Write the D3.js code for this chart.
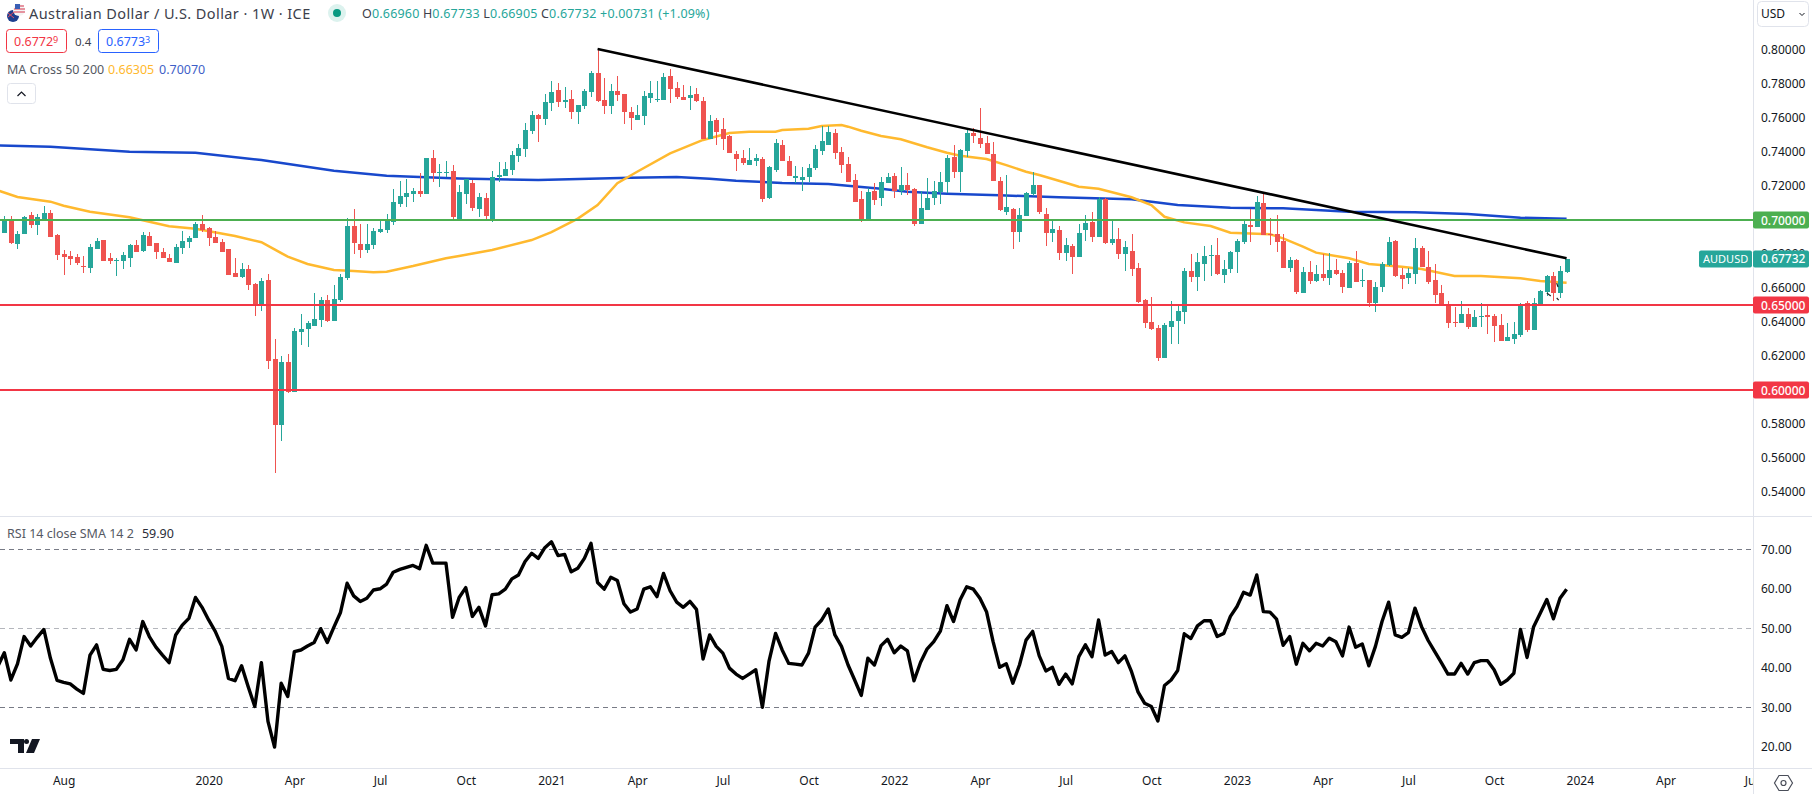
<!DOCTYPE html>
<html>
<head>
<meta charset="utf-8">
<title>AUDUSD weekly</title>
<script src="https://cdnjs.cloudflare.com/ajax/libs/d3/7.8.5/d3.min.js"></script>
<style>
  html, body { margin: 0; padding: 0; background: #fff; overflow: hidden; }
  svg { display: block; }
  text { font-family: "Noto Sans", sans-serif; }
</style>
</head>
<body>
<div id="chart"></div>
<script>
// weekly bars, index 0 is the first week on screen (June 2019)
var opens = [
  .6924,.7006,.6859,.6918,.7030,.6971,.7000,.7041,.6912,.6800,
  .6788,.6782,.6730,.6718,.6830,.6882,.6777,.6759,.6759,.6777,
  .6853,.6818,.6906,.6865,.6812,.6777,.6747,.6835,.6871,.6894,
  .6977,.6953,.6900,.6871,.6830,.6688,.6665,.6712,.6624,.6500,
  .6647,.6183,.5794,.6165,.5988,.6341,.6359,.6377,.6412,.6530,
  .6406,.6530,.6659,.6965,.6859,.6824,.6853,.6929,.6941,.6988,
  .7094,.7135,.7153,.7171,.7153,.7365,.7276,.7276,.7288,.7006,
  .7153,.7218,.7065,.7129,.7000,.7253,.7259,.7294,.7376,.7418,
  .7523,.7617,.7594,.7688,.7765,.7694,.7712,.7635,.7670,.7753,
  .7865,.7706,.7670,.7759,.7741,.7635,.7588,.7612,.7718,.7706,
  .7706,.7847,.7776,.7723,.7718,.7741,.7700,.7476,.7588,.7535,
  .7494,.7388,.7365,.7323,.7347,.7359,.7129,.7294,.7441,.7347,
  .7247,.7235,.7253,.7306,.7406,.7441,.7512,.7400,.7329,.7235,
  .7123,.7000,.7171,.7129,.7218,.7259,.7171,.7206,.7182,.6977,
  .7059,.7129,.7165,.7224,.7370,.7282,.7406,.7512,.7482,.7453,
  .7388,.7229,.7047,.7065,.6929,.7024,.7153,.7206,.7035,.6924,
  .6941,.6806,.6847,.6782,.6941,.6988,.6900,.7123,.6865,.6888,
  .6800,.6818,.6718,.6530,.6400,.6365,.6188,.6371,.6406,.6459,
  .6700,.6665,.6741,.6788,.6794,.6677,.6712,.6812,.6871,.6971,
  .6959,.7100,.6918,.6918,.6877,.6718,.6765,.6571,.6694,.6641,
  .6683,.6659,.6706,.6688,.6600,.6747,.6641,.6647,.6512,.6606,
  .6735,.6877,.6677,.6659,.6683,.6835,.6724,.6647,.6571,.6500,
  .6400,.6394,.6447,.6371,.6429,.6441,.6435,.6382,.6288,.6300,
  .6324,.6512,.6353,.6500,.6577,.6671,.6571,.66960
]

var highs = [
  .7024,.7024,.6935,.7024,.7047,.7035,.7082,.7059,.6918,.6824,
  .6818,.6800,.6788,.6859,.6894,.6882,.6806,.6777,.6812,.6859,
  .6882,.6929,.6929,.6865,.6835,.6800,.6859,.6935,.6906,.6988,
  .7030,.6959,.6935,.6888,.6830,.6777,.6747,.6735,.6630,.6659,
  .6683,.6300,.6200,.6212,.6365,.6447,.6406,.6571,.6547,.6559,
  .6618,.6683,.7012,.7065,.6977,.6977,.6953,.6994,.7035,.7182,
  .7229,.7241,.7188,.7276,.7365,.7412,.7329,.7347,.7323,.7206,
  .7241,.7235,.7159,.7159,.7288,.7341,.7341,.7406,.7447,.7570,
  .7641,.7623,.7741,.7817,.7806,.7782,.7765,.7676,.7770,.7876,
  .8006,.7835,.7800,.7847,.7741,.7665,.7676,.7759,.7817,.7817,
  .7865,.7888,.7812,.7794,.7788,.7776,.7723,.7617,.7600,.7600,
  .7500,.7406,.7412,.7423,.7388,.7370,.7318,.7476,.7470,.7376,
  .7318,.7312,.7329,.7441,.7553,.7553,.7535,.7429,.7370,.7271,
  .7171,.7188,.7218,.7253,.7276,.7276,.7312,.7276,.7188,.7171,
  .7247,.7229,.7282,.7382,.7441,.7418,.7535,.7541,.7659,.7494,
  .7459,.7253,.7265,.7071,.7071,.7165,.7282,.7206,.7071,.6994,
  .6965,.6894,.6859,.6977,.7030,.7047,.7135,.7129,.7000,.6953,
  .6877,.6918,.6747,.6535,.6547,.6382,.6394,.6523,.6494,.6718,
  .6800,.6806,.6847,.6853,.6894,.6765,.6818,.6888,.6994,.7065,
  .7141,.7159,.7012,.7030,.6918,.6782,.6771,.6724,.6759,.6735,
  .6800,.6806,.6771,.6706,.6759,.6818,.6712,.6647,.6635,.6753,
  .6900,.6882,.6718,.6718,.6894,.6847,.6818,.6741,.6618,.6523,
  .6488,.6523,.6482,.6471,.6512,.6500,.6447,.6447,.6394,.6400,
  .6512,.6523,.6541,.6588,.6677,.6694,.6730,.67733
]

var lows = [
  .6924,.6859,.6830,.6918,.6953,.6912,.7000,.6900,.6765,.6677,
  .6735,.6735,.6688,.6688,.6830,.6759,.6741,.6671,.6712,.6724,
  .6812,.6812,.6847,.6771,.6777,.6753,.6747,.6800,.6835,.6894,
  .6929,.6847,.6865,.6812,.6677,.6665,.6659,.6588,.6435,.6465,
  .6124,.5512,.5700,.5982,.5988,.6265,.6253,.6377,.6371,.6400,
  .6406,.6518,.6647,.6800,.6777,.6806,.6830,.6924,.6924,.6971,
  .7076,.7076,.7106,.7135,.7153,.7224,.7194,.7253,.7006,.7000,
  .7094,.7053,.7018,.7000,.6988,.7224,.7259,.7265,.7341,.7370,
  .7506,.7459,.7559,.7641,.7665,.7659,.7594,.7565,.7653,.7723,
  .7694,.7623,.7623,.7700,.7565,.7529,.7588,.7559,.7688,.7694,
  .7706,.7688,.7712,.7706,.7647,.7694,.7476,.7476,.7441,.7412,
  .7394,.7288,.7323,.7323,.7318,.7106,.7123,.7282,.7347,.7259,
  .7218,.7171,.7224,.7294,.7382,.7441,.7359,.7276,.7224,.7106,
  .6988,.6994,.7088,.7082,.7218,.7129,.7147,.7147,.6965,.6977,
  .7059,.7088,.7094,.7159,.7247,.7165,.7370,.7453,.7423,.7388,
  .7229,.7053,.7030,.6830,.6871,.7024,.7141,.7035,.6847,.6871,
  .6765,.6759,.6683,.6782,.6877,.6871,.6900,.6859,.6853,.6771,
  .6700,.6671,.6512,.6365,.6353,.6171,.6188,.6271,.6271,.6388,
  .6635,.6582,.6641,.6671,.6677,.6630,.6688,.6688,.6859,.6871,
  .6959,.6912,.6853,.6812,.6718,.6694,.6565,.6571,.6624,.6635,
  .6641,.6618,.6677,.6571,.6600,.6635,.6606,.6488,.6459,.6577,
  .6730,.6665,.6594,.6624,.6624,.6724,.6624,.6512,.6494,.6365,
  .6371,.6394,.6359,.6371,.6371,.6329,.6282,.6288,.6288,.6271,
  .6312,.6341,.6353,.6500,.6553,.6523,.6541,.66905
]

var closes = [
  .6994,.6865,.6918,.7018,.6971,.7018,.7041,.6900,.6794,.6782,
  .6771,.6747,.6724,.6841,.6877,.6759,.6759,.6765,.6794,.6853,
  .6812,.6912,.6847,.6812,.6777,.6753,.6841,.6877,.6894,.6977,
  .6941,.6894,.6865,.6812,.6677,.6665,.6712,.6618,.6494,.6641,
  .6171,.5794,.6165,.5988,.6347,.6359,.6394,.6418,.6530,.6406,
  .6535,.6665,.6965,.6865,.6824,.6859,.6935,.6947,.6994,.7106,
  .7141,.7159,.7171,.7153,.7365,.7276,.7282,.7282,.7018,.7165,
  .7241,.7071,.7135,.7024,.7253,.7265,.7300,.7382,.7423,.7529,
  .7617,.7594,.7694,.7753,.7694,.7706,.7635,.7676,.7759,.7865,
  .7700,.7670,.7759,.7735,.7635,.7600,.7617,.7729,.7747,.7712,
  .7841,.7770,.7723,.7706,.7735,.7700,.7476,.7582,.7517,.7476,
  .7394,.7359,.7335,.7353,.7365,.7123,.7312,.7453,.7347,.7259,
  .7259,.7253,.7306,.7418,.7465,.7518,.7394,.7323,.7224,.7106,
  .6994,.7165,.7118,.7224,.7253,.7171,.7206,.7176,.6977,.7071,
  .7129,.7171,.7224,.7365,.7282,.7412,.7512,.7494,.7447,.7388,
  .7229,.7059,.7076,.6929,.7030,.7159,.7206,.7047,.6924,.6947,
  .6806,.6853,.6782,.6924,.6982,.6900,.7123,.6865,.6888,.6800,
  .6841,.6712,.6518,.6394,.6359,.6188,.6382,.6406,.6465,.6700,
  .6665,.6753,.6788,.6794,.6683,.6712,.6812,.6877,.6977,.6959,
  .7106,.6912,.6912,.6871,.6718,.6765,.6577,.6694,.6641,.6683,
  .6659,.6706,.6683,.6606,.6747,.6635,.6647,.6512,.6606,.6741,
  .6871,.6671,.6653,.6688,.6835,.6724,.6635,.6559,.6494,.6394,
  .6394,.6447,.6371,.6429,.6435,.6429,.6377,.6288,.6312,.6329,
  .6506,.6353,.6512,.6582,.6671,.6571,.6700,.67732
]

// RSI starts one bar earlier, off the left edge
var rsiFirstBar = -1
var rsiValues = [
  40.3,
  43.8,36.9,41.0,47.9,45.5,47.7,49.7,42.4,36.8,36.3,35.9,34.6,33.5,43.2,45.8,39.6,39.3,39.6,42.0,47.2,
  44.5,51.7,47.9,45.2,43.2,41.3,48.3,50.8,52.5,57.8,55.3,52.1,49.2,45.4,37.3,36.7,40.5,35.2,30.2,41.3,
  26.4,19.9,36.1,32.7,44.1,44.5,45.5,46.4,49.9,46.4,50.3,54.0,61.4,58.2,56.8,57.6,59.7,60.0,61.2,64.2,
  64.9,65.4,65.9,65.1,71.0,66.5,66.5,66.5,52.8,57.8,60.3,53.0,55.3,50.6,58.5,58.7,59.9,62.5,63.5,66.9,
  69.0,67.7,70.4,71.9,68.4,68.7,64.3,65.2,67.7,71.5,61.6,59.9,62.9,62.1,56.2,54.1,54.9,59.9,60.5,58.0,
  63.9,59.5,56.6,55.3,56.8,54.8,42.2,48.3,45.4,43.7,39.9,38.4,37.3,38.4,39.5,30.0,41.6,48.7,44.5,41.1,
  40.9,40.7,43.7,50.3,52.1,54.9,48.3,45.4,40.7,36.9,33.0,42.4,40.7,45.6,47.2,43.8,45.5,44.3,36.7,41.4,
  44.8,46.6,49.3,55.7,51.7,57.2,60.5,59.9,57.6,54.2,46.6,40.1,41.0,36.1,40.7,47.0,49.2,43.0,39.2,40.1,
  35.8,38.4,35.9,42.8,45.8,42.8,52.1,43.2,44.1,41.3,43.0,39.0,33.8,31.0,30.2,26.5,35.5,36.9,39.3,48.6,
  47.4,50.6,51.9,51.9,47.9,48.7,53.0,55.5,59.1,58.4,63.5,54.2,54.1,52.3,45.7,47.9,40.9,46.2,44.3,46.2,
  45.5,47.5,46.6,43.0,50.3,45.2,46.0,40.5,45.4,51.7,56.6,48.3,47.7,48.9,55.1,50.4,46.9,44.1,41.3,38.4,
  38.4,41.1,38.4,41.3,41.8,41.8,39.5,35.8,36.9,38.6,49.7,42.6,50.4,53.8,57.3,52.4,57.6,59.9
]

// moving averages, read at the bars where they bend
var ma50Bars = [-1,2,7,9,13,19,25,29,35,39,43,46,50,53,56,58,62,67,69,74,80,83,87,90,93,96,101,106,110,113,117,118,122,124,127,128,130,133,136,140,143,145,149,152,155,157,161,163,166,171,174,176,179,183,186,192,194,197,199,204,207,212,215,220,224,230,233,237]
var ma50Values = [.7174,.7135,.7108,.7084,.7049,.7016,.6963,.6949,.6906,.6869,.6784,.6741,.6706,.6700,.6692,.6696,.6729,.6775,.6788,.6824,.6882,.6929,.7008,.7088,.7216,.7284,.7392,.7471,.7512,.7519,.7519,.7529,.7537,.7553,.7559,.7549,.7525,.7494,.7475,.7428,.7396,.7378,.7359,.7323,.7284,.7265,.7219,.7196,.7184,.7134,.7088,.7019,.6986,.6965,.6925,.6916,.6892,.6843,.6808,.6775,.6741,.6725,.6712,.6671,.6671,.6657,.6641,.66305]
var ma200Bars = [-1,7,19,29,39,50,58,69,81,95,102,107,111,118,125,133,137,143,151,160,171,178,186,194,204,214,222,230,237]
var ma200Values = [.7439,.7431,.7402,.7396,.7353,.7290,.7261,.7244,.7235,.7249,.7253,.7243,.7231,.7218,.7212,.7184,.7166,.7155,.7145,.7134,.7122,.7088,.7072,.7069,.7049,.7045,.7035,.7013,.7007]

// drawn levels and the falling trend line
var levelValues = [.70, .65, .60]
var levelColors = ['#4caf50', '#f23645', '#f23645']
var trendBars = [90, 237]
var trendValues = [.8006, .6775]
var scrapBars = [[234, 234.6], [235.5, 235.8], [235.5, 235.7]]
var scrapValues = [[.6570, .6553], [.6541, .6529], [.6629, .6606]]

var priceTicks = [.54,.56,.58,.60,.62,.64,.66,.68,.72,.74,.76,.78,.80]
var rsiTicks = [20, 30, 40, 50, 60, 70]
var rsiBands = [70, 50, 30]
var timeTickBars = [9,31,44,57,70,83,96,109,122,135,148,161,174,187,200,213,226,239,252,265]
var timeTickLabels = ['Aug','2020','Apr','Jul','Oct','2021','Apr','Jul','Oct','2022','Apr','Jul','Oct','2023','Apr','Jul','Oct','2024','Apr','Jul']

var upColor = '#26a69a'
  , downColor = '#ef5350'
  , gridLine = '#e0e3eb'
  , inkColor = '#131722'
  , W = 1812
  , H = 794
  , paneRight = 1753
  , mainBottom = 516
  , rsiBottom = 768

var x = d3.scaleLinear().domain([0, 237]).range([4.3, 1566.6])
  , y = d3.scaleLinear().domain([.54, .80]).range([492, 50])
  , yRsi = d3.scaleLinear().domain([20, 70]).range([746.7, 549.3])

var svg = d3.select('#chart').append('svg')
  .attr('width', W)
  .attr('height', H)

svg.append('defs').append('clipPath').attr('id', 'main-clip')
  .append('rect').attr('width', paneRight).attr('height', mainBottom)
d3.select('defs').append('clipPath').attr('id', 'rsi-clip')
  .append('rect').attr('y', mainBottom).attr('width', paneRight).attr('height', rsiBottom - mainBottom)
d3.select('defs').append('clipPath').attr('id', 'time-clip')
  .append('rect').attr('y', rsiBottom).attr('width', paneRight).attr('height', H - rsiBottom)

var main = svg.append('g').attr('clip-path', 'url(#main-clip)')
var maLine = d3.line()
  .x(function(d) { return x(d[0]) })
  .y(function(d) { return y(d[1]) })

// moving averages sit under the candles
main.append('path')
  .attr('d', maLine(d3.zip(ma200Bars, ma200Values)))
  .attr('fill', 'none')
  .attr('stroke', '#1848cc')
  .attr('stroke-width', 2.5)
main.append('path')
  .attr('d', maLine(d3.zip(ma50Bars, ma50Values)))
  .attr('fill', 'none')
  .attr('stroke', '#ffb92e')
  .attr('stroke-width', 2.5)

// candles
var candles = main.selectAll('g.candle').data(d3.range(opens.length)).enter().append('g')
  .attr('class', 'candle')
  .attr('fill', function(i) { return closes[i] >= opens[i] ? upColor : downColor })
  .attr('shape-rendering', 'crispEdges')

candles.append('rect')
  .attr('x', function(i) { return Math.round(x(i)) })
  .attr('width', 1)
  .attr('y', function(i) { return y(highs[i]) })
  .attr('height', function(i) { return y(lows[i]) - y(highs[i]) })

candles.append('rect')
  .attr('x', function(i) { return Math.round(x(i)) - 2 })
  .attr('width', 5)
  .attr('y', function(i) { return y(Math.max(opens[i], closes[i])) })
  .attr('height', function(i) { return Math.max(1, Math.abs(y(opens[i]) - y(closes[i]))) })

// horizontal levels over the candles
main.selectAll('line.level').data(levelValues).enter().append('line')
  .attr('class', 'level')
  .attr('x1', 0)
  .attr('x2', paneRight)
  .attr('y1', function(d) { return y(d) })
  .attr('y2', function(d) { return y(d) })
  .attr('stroke', function(d, i) { return levelColors[i] })
  .attr('stroke-width', 2)

main.append('path')
  .attr('d', maLine(d3.zip(trendBars, trendValues)))
  .attr('fill', 'none')
  .attr('stroke', '#000')
  .attr('stroke-width', 2.6)

scrapBars.forEach(function(bars, i) {
  main.append('path')
    .attr('d', maLine(d3.zip(bars, scrapValues[i])))
    .attr('fill', 'none')
    .attr('stroke', '#222')
    .attr('stroke-width', 1.2)
})

// RSI pane
var rsiPane = svg.append('g').attr('clip-path', 'url(#rsi-clip)')

rsiPane.selectAll('line.band').data(rsiBands).enter().append('line')
  .attr('class', 'band')
  .attr('x1', 0)
  .attr('x2', paneRight)
  .attr('y1', function(d) { return Math.round(yRsi(d)) + .5 })
  .attr('y2', function(d) { return Math.round(yRsi(d)) + .5 })
  .attr('stroke', function(d) { return d === 50 ? '#b4b6bc' : '#787b86' })
  .attr('stroke-dasharray', '5 4')

rsiPane.append('path')
  .attr('d', d3.line()
    .x(function(d, i) { return x(i + rsiFirstBar) })
    .y(function(d) { return yRsi(d) })(rsiValues))
  .attr('fill', 'none')
  .attr('stroke', '#000')
  .attr('stroke-width', 3.4)
  .attr('stroke-linejoin', 'round')

// pane borders
function rule(x1, y1, x2, y2) {
  svg.append('line')
    .attr('x1', x1).attr('y1', y1).attr('x2', x2).attr('y2', y2)
    .attr('stroke', gridLine)
    .attr('shape-rendering', 'crispEdges')
}
rule(0, mainBottom + .5, W, mainBottom + .5)
rule(0, rsiBottom + .5, W, rsiBottom + .5)
rule(paneRight + .5, 0, paneRight + .5, H)

// axes
function styleAxis(g) {
  g.select('.domain').remove()
  g.selectAll('text').attr('fill', inkColor).attr('font-size', 12).attr('font-family', '"Noto Sans", sans-serif')
}

svg.append('g')
  .attr('transform', 'translate(' + paneRight + ',0)')
  .call(d3.axisRight(y).tickValues(priceTicks).tickFormat(d3.format('.5f')).tickSize(0).tickPadding(8))
  .call(styleAxis)

svg.append('g')
  .attr('transform', 'translate(' + paneRight + ',0)')
  .call(d3.axisRight(yRsi).tickValues(rsiTicks).tickFormat(d3.format('.2f')).tickSize(0).tickPadding(8))
  .call(styleAxis)

svg.append('g')
  .attr('clip-path', 'url(#time-clip)')
  .append('g')
  .attr('transform', 'translate(0,' + rsiBottom + ')')
  .call(d3.axisBottom(x).tickValues(timeTickBars).tickFormat(function(d, i) { return timeTickLabels[i] }).tickSize(0).tickPadding(8))
  .call(styleAxis)

// price labels on the axis
function priceTag(value, color) {
  var cy = y(value)
  svg.append('rect')
    .attr('x', paneRight).attr('y', Math.round(cy) - 8.5)
    .attr('width', 56).attr('height', 17).attr('rx', 2)
    .attr('fill', color)
  svg.append('text')
    .attr('x', paneRight + 8).attr('y', cy + 4.5)
    .attr('font-size', 12).attr('font-weight', 500).attr('fill', '#fff')
    .text(d3.format('.5f')(value))
}
levelValues.forEach(function(v, i) { priceTag(v, levelColors[i]) })
priceTag(closes[closes.length - 1], upColor)

svg.append('rect')
  .attr('x', 1699).attr('y', Math.round(y(closes[closes.length - 1])) - 8.5)
  .attr('width', 53).attr('height', 17).attr('rx', 2)
  .attr('fill', upColor)
svg.append('text')
  .attr('x', 1703).attr('y', y(closes[closes.length - 1]) + 4.5)
  .attr('font-size', 11).attr('fill', '#fff')
  .text('AUDUSD')

// USD button
svg.append('rect')
  .attr('x', 1757.5).attr('y', 1.5).attr('width', 51).attr('height', 25).attr('rx', 4)
  .attr('fill', '#fff').attr('stroke', gridLine)
svg.append('text')
  .attr('x', 1761).attr('y', 18).attr('font-size', 12).attr('fill', inkColor)
  .text('USD')
svg.append('path')
  .attr('d', 'M1799.5 13l2.5 2.5 2.5-2.5')
  .attr('fill', 'none').attr('stroke', inkColor)

// title row
var flag = svg.append('g')
flag.append('circle').attr('cx', 13).attr('cy', 16).attr('r', 6).attr('fill', '#1d3f8f')
flag.append('circle').attr('cx', 19).attr('cy', 10).attr('r', 6).attr('fill', '#f4f4f4')
flag.append('path').attr('d', 'M15 6h9M14 9h11M14 12h11').attr('stroke', '#d6334a').attr('stroke-width', 1.2)
flag.append('rect').attr('x', 15).attr('y', 4).attr('width', 5).attr('height', 5).attr('fill', '#3a5fb5')
flag.append('path').attr('d', 'M8 13l6 5M14 12l-6 5').attr('stroke', '#e2505f').attr('stroke-width', 1)

svg.append('text')
  .attr('x', 29).attr('y', 19).attr('font-size', 14.5).attr('letter-spacing', .42).attr('fill', '#3c404b')
  .text('Australian Dollar / U.S. Dollar · 1W · ICE')

svg.append('circle').attr('cx', 337).attr('cy', 13).attr('r', 9).attr('fill', '#dcf2ee')
svg.append('circle').attr('cx', 337).attr('cy', 13).attr('r', 4).attr('fill', '#089981')

var ohlc = svg.append('text').attr('x', 362).attr('y', 18).attr('font-size', 12.5).attr('letter-spacing', .18)
var ohlcParts = [['O', '0.66960'], ['H', '0.67733'], ['L', '0.66905'], ['C', '0.67732']]
ohlcParts.forEach(function(p) {
  ohlc.append('tspan').attr('fill', '#3c404b').text(p[0])
  ohlc.append('tspan').attr('fill', upColor).text(p[1] + ' ')
})
ohlc.append('tspan').attr('fill', upColor).text('+0.00731 (+1.09%)')

// bid / ask boxes
function quoteBox(bx, color, main, small) {
  svg.append('rect')
    .attr('x', bx + .5).attr('y', 29.5).attr('width', 60).attr('height', 23).attr('rx', 3)
    .attr('fill', '#fff').attr('stroke', color)
  var t = svg.append('text')
    .attr('x', bx + 8).attr('y', 46).attr('font-size', 12.5).attr('fill', color)
  t.append('tspan').text(main)
  t.append('tspan').attr('font-size', 9).attr('dy', -3.5).text(small)
}
quoteBox(6, '#f23645', '0.6772', '9')
quoteBox(98, '#2962ff', '0.6773', '3')
svg.append('text')
  .attr('x', 75).attr('y', 46).attr('font-size', 11.5).attr('fill', '#3c404b')
  .text('0.4')

// study legends
svg.append('text').attr('x', 7).attr('y', 74).attr('font-size', 12.5).attr('fill', '#555963').text('MA Cross 50 200')
svg.append('text').attr('x', 108).attr('y', 74).attr('font-size', 12.5).attr('fill', '#ffb92e').text('0.66305')
svg.append('text').attr('x', 159).attr('y', 74).attr('font-size', 12.5).attr('fill', '#3f5fc8').text('0.70070')

svg.append('rect')
  .attr('x', 7.5).attr('y', 83.5).attr('width', 28).attr('height', 20).attr('rx', 3)
  .attr('fill', '#fff').attr('stroke', gridLine)
svg.append('path')
  .attr('d', 'M17.5 96l4-4 4 4')
  .attr('fill', 'none').attr('stroke', inkColor).attr('stroke-width', 1.2)

var rsiLegend = svg.append('text').attr('x', 7).attr('y', 538).attr('font-size', 12.5)
rsiLegend.append('tspan').attr('fill', '#555963').text('RSI 14 close SMA 14 2')
rsiLegend.append('tspan').attr('dx', 8).attr('fill', '#2a2e39').text('59.90')

// logo and settings
svg.append('path')
  .attr('d', 'M10 739h14v14h-6v-9h-8zM32 739h8l-6 14h-8z')
  .attr('fill', inkColor)
svg.append('circle').attr('cx', 26.5).attr('cy', 741.5).attr('r', 2.5).attr('fill', inkColor)

svg.append('path')
  .attr('d', 'M1779 775.5h9l4.5 7.5-4.5 7.5h-9l-4.5-7.5z')
  .attr('fill', 'none').attr('stroke', '#4a4e59').attr('stroke-width', 1.2)
svg.append('circle').attr('cx', 1783.5).attr('cy', 783).attr('r', 2.5).attr('fill', 'none').attr('stroke', '#4a4e59').attr('stroke-width', 1.2)
</script>
</body>
</html>
